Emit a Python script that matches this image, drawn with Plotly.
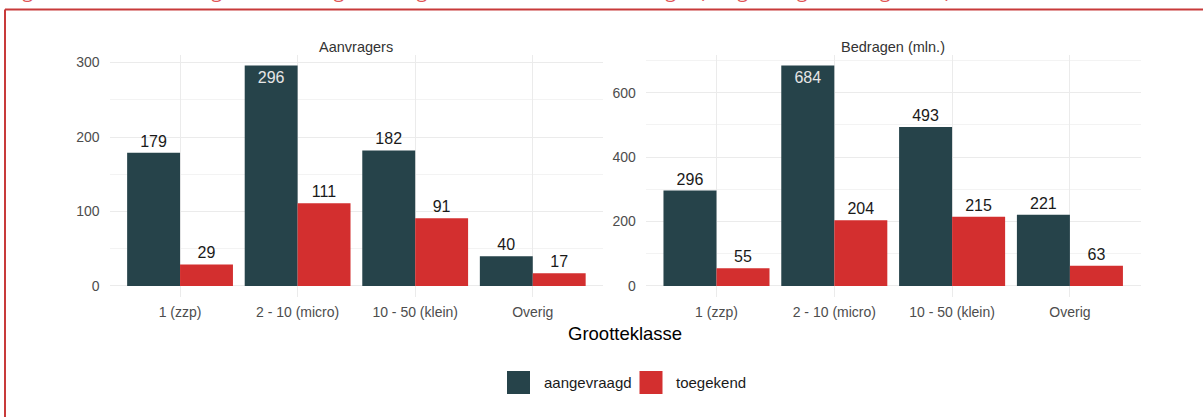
import plotly.graph_objects as go

categories = ["1 (zzp)", "2 - 10 (micro)", "10 - 50 (klein)", "Overig"]
aanvragers_aangevraagd = [179, 296, 182, 40]
aanvragers_toegekend = [29, 111, 91, 17]
bedragen_aangevraagd = [296, 684, 493, 221]
bedragen_toegekend = [55, 204, 215, 63]
series_names = ["aangevraagd", "toegekend"]
panel_titles = ["Aanvragers", "Bedragen (mln.)"]
x_title = "Grootteklasse"
title_text = "Figuur 4: Aantal aanvragers en bedragen naar grootteklasse van de aanvrager (aangevraagd en toegekend)"

COL_DARK = "#26434a"
COL_RED = "#d32f2f"
FONT = "Liberation Sans, Arial, sans-serif"
W, H = 1203, 417

fig = go.Figure()

panels = [
    ("x", "y", aanvragers_aangevraagd, aanvragers_toegekend),
    ("x2", "y2", bedragen_aangevraagd, bedragen_toegekend),
]
for pi, (xa, ya, va, vt) in enumerate(panels):
    pmax = max(va + vt)
    for name, vals, col in ((series_names[0], va, COL_DARK), (series_names[1], vt, COL_RED)):
        pos = ["inside" if v == pmax else "outside" for v in vals]
        fig.add_trace(go.Bar(
            x=categories, y=vals, name=name, marker=dict(color=col, line=dict(width=0)),
            text=[str(v) for v in vals], textposition=pos, insidetextanchor="end",
            textangle=0, constraintext="none", cliponaxis=False,
            outsidetextfont=dict(family=FONT, size=16, color="#1a1a1a"),
            insidetextfont=dict(family=FONT, size=16, color="#e6e6e6"),
            xaxis=xa, yaxis=ya, showlegend=False, offsetgroup=name, hoverinfo="skip",
        ))

def px_x(p):
    return p / W

def px_y(p):
    return 1 - p / H

ydom = [px_y(297), px_y(54.5)]
axis_common = dict(showline=False, zeroline=False, ticks="",
                   tickfont=dict(family=FONT, size=14, color="#4d4d4d"))
fig.update_layout(
    width=W, height=H, margin=dict(l=0, r=0, t=0, b=0),
    paper_bgcolor="white", plot_bgcolor="white",
    barmode="group", bargap=0.1, bargroupgap=0,
    showlegend=False,
    xaxis=dict(domain=[px_x(109.5), px_x(603.3)], range=[-0.6, 3.6], showgrid=True,
               gridcolor="#ebebeb", gridwidth=1.2, ticklabelstandoff=5, anchor="y", **axis_common),
    xaxis2=dict(domain=[px_x(645.8), px_x(1140.6)], range=[-0.6, 3.6], showgrid=True,
                gridcolor="#ebebeb", gridwidth=1.2, ticklabelstandoff=5, anchor="y2", **axis_common),
    yaxis=dict(domain=ydom, range=[-14.8, 310.8], tickvals=[0, 100, 200, 300], showgrid=True,
               gridcolor="#ebebeb", gridwidth=1.2, ticklabelstandoff=9, anchor="x",
               minor=dict(tickvals=[50, 150, 250], showgrid=True, gridcolor="#f3f3f3", gridwidth=0.8),
               **axis_common),
    yaxis2=dict(domain=ydom, range=[-34.2, 718.2], tickvals=[0, 200, 400, 600], showgrid=True,
                gridcolor="#ebebeb", gridwidth=1.2, ticklabelstandoff=9, anchor="x2",
                minor=dict(tickvals=[100, 300, 500, 700], showgrid=True, gridcolor="#f3f3f3", gridwidth=0.8),
                **axis_common),
)

annotations = [
    dict(text=panel_titles[0], x=px_x((109.5 + 603.3) / 2), y=px_y(47), xref="paper", yref="paper",
         showarrow=False, font=dict(family=FONT, size=14.5, color="#333333"), xanchor="center", yanchor="middle"),
    dict(text=panel_titles[1], x=px_x((645.8 + 1140.6) / 2), y=px_y(47), xref="paper", yref="paper",
         showarrow=False, font=dict(family=FONT, size=14.5, color="#333333"), xanchor="center", yanchor="middle"),
    dict(text=x_title, x=px_x(624.5), y=px_y(333), xref="paper", yref="paper",
         showarrow=False, font=dict(family=FONT, size=18.5, color="#000000"), xanchor="center", yanchor="middle"),
    dict(text=title_text, x=px_x(6), y=1, yshift=-6, xref="paper", yref="paper",
         showarrow=False, font=dict(family="Open Sans, sans-serif", size=19, color="#e05555"),
         xanchor="left", yanchor="bottom"),
]

# manual legend
leg_items = [(series_names[0], COL_DARK, 507, 541.5), (series_names[1], COL_RED, 639.5, 674)]
shapes = []
for name, col, sx, tx in leg_items:
    shapes.append(dict(type="rect", xref="paper", yref="paper", x0=px_x(sx), x1=px_x(sx + 23),
                       y0=px_y(394), y1=px_y(371), fillcolor=col, line=dict(width=0)))
    annotations.append(dict(text=name, x=px_x(tx), y=px_y(382.5), xref="paper", yref="paper",
                            showarrow=False, font=dict(family=FONT, size=15, color="#1a1a1a"),
                            xanchor="left", yanchor="middle"))

# red frame (top and left edges)
shapes.append(dict(type="line", xref="paper", yref="paper", x0=px_x(5), x1=1, y0=px_y(9.5), y1=px_y(9.5),
                   line=dict(color="#c83a3a", width=2)))
shapes.append(dict(type="line", xref="paper", yref="paper", x0=px_x(5), x1=px_x(5), y0=0, y1=px_y(9.5),
                   line=dict(color="#c83a3a", width=2)))

fig.update_layout(annotations=annotations, shapes=shapes)
fig.write_html("out.html", config={"displayModeBar": False},
               post_script="document.body.style.margin='0';document.body.style.overflow='hidden';")
